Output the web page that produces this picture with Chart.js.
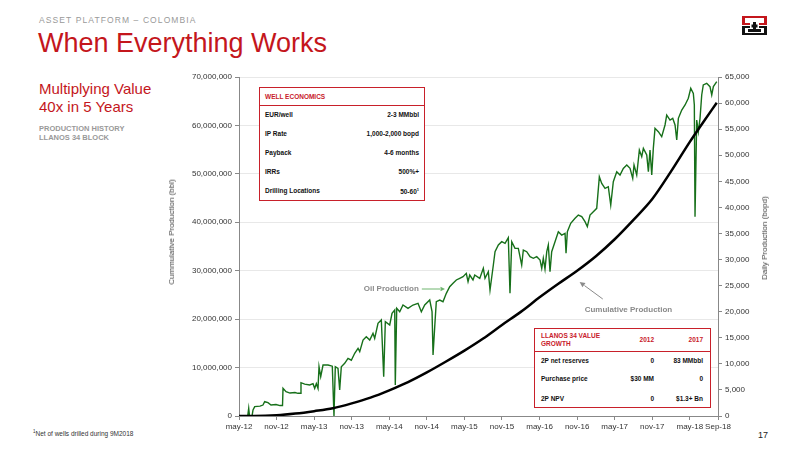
<!DOCTYPE html>
<html>
<head>
<meta charset="utf-8">
<script src="https://cdn.jsdelivr.net/npm/chart.js@4"></script>
<style>
  body { margin: 0; width: 800px; height: 450px; position: relative; background: #fff; overflow: hidden;
         font-family: "Liberation Sans", Arial, Helvetica, sans-serif; }
  .t { position: absolute; white-space: nowrap; line-height: 1; }
  .vt { position: absolute; white-space: nowrap; line-height: 1; font-size: 8px; color: #444;
        transform: translate(-50%, -50%) rotate(-90deg); }
  #wrap { position: absolute; left: 150px; top: 0; width: 650px; height: 450px; }
  .box { position: absolute; border: 1.5px solid #c8202a; background: #fff; box-sizing: border-box; }
  .sep { position: absolute; left: 0; right: 0; height: 0; border-top: 1.2px solid #c8202a; }
  .bt { position: absolute; white-space: nowrap; line-height: 1; font-weight: bold; font-size: 6.5px; color: #111; }
  .red { color: #c8202a; }
  .r { text-align: right; }
</style>
</head>
<body>
<div class="t" style="left:39px;top:16px;font-size:8.5px;letter-spacing:1.1px;color:#999">ASSET PLATFORM – COLOMBIA</div>
<div class="t" style="left:38px;top:30px;font-size:27px;color:#c4161c">When Everything Works</div>
<div class="t" style="left:39px;top:80px;font-size:15px;color:#c4161c;line-height:17.5px">Multiplying Value<br>40x in 5 Years</div>
<div class="t" style="left:39px;top:124px;font-size:7.5px;font-weight:bold;color:#999;line-height:9px">PRODUCTION HISTORY<br>LLANOS 34 BLOCK</div>
<div class="t" style="left:33px;top:430px;font-size:6.5px;color:#333"><sup style="font-size:4.5px">1</sup>Net of wells drilled during 9M2018</div>
<div class="t" style="left:758px;top:431px;font-size:9px;color:#222">17</div>

<svg style="position:absolute;left:742px;top:15px" width="26" height="21" viewBox="0 0 26 21">
  <rect x="0" y="1" width="25" height="9" fill="#c4161c"/>
  <rect x="0" y="11" width="25" height="9" fill="#111"/>
  <rect x="3" y="3" width="19" height="5" fill="#fff"/>
  <rect x="8" y="5" width="9" height="11" fill="#fff"/>
  <rect x="3" y="13" width="19" height="5" fill="#fff"/>
  <rect x="6" y="14" width="13" height="3" fill="#111"/>
  <rect x="11" y="7" width="3" height="8" fill="#111"/>
  <rect x="9.5" y="9.5" width="6" height="3" fill="#111"/>
</svg>

<div id="wrap"><canvas id="chart" width="650" height="450"></canvas></div>

<div class="vt" style="left:172px;top:232px">Cummulative Production (bbl)</div>
<div class="vt" style="left:765px;top:238px">Daily Production (bopd)</div>

<div class="box" style="left:259px;top:87px;width:166px;height:114px">
  <div class="bt red" style="left:5px;top:6px">WELL ECONOMICS</div>
  <div class="sep" style="top:17px"></div>
  <div class="bt" style="left:5px;top:24px">EUR/well</div>
  <div class="bt r" style="right:5px;top:24px">2-3 MMbbl</div>
  <div class="bt" style="left:5px;top:43px">IP Rate</div>
  <div class="bt r" style="right:5px;top:43px">1,000-2,000 bopd</div>
  <div class="bt" style="left:5px;top:62px">Payback</div>
  <div class="bt r" style="right:5px;top:62px">4-6 months</div>
  <div class="bt" style="left:5px;top:81px">IRRs</div>
  <div class="bt r" style="right:5px;top:81px">500%+</div>
  <div class="bt" style="left:5px;top:100px">Drilling Locations</div>
  <div class="bt r" style="right:5px;top:100px">50-60<sup style="font-size:4px">1</sup></div>
</div>

<div class="box" style="left:534px;top:328px;width:177px;height:80px">
  <div class="bt red" style="left:6px;top:3px;line-height:8px">LLANOS 34 VALUE<br>GROWTH</div>
  <div class="bt red r" style="right:56px;top:8px">2012</div>
  <div class="bt red r" style="right:7px;top:8px">2017</div>
  <div class="sep" style="top:22px"></div>
  <div class="bt" style="left:6px;top:29px">2P net reserves</div>
  <div class="bt r" style="right:56px;top:29px">0</div>
  <div class="bt r" style="right:7px;top:29px">83 MMbbl</div>
  <div class="bt" style="left:6px;top:47px">Purchase price</div>
  <div class="bt r" style="right:56px;top:47px">$30 MM</div>
  <div class="bt r" style="right:7px;top:47px">0</div>
  <div class="bt" style="left:6px;top:67px">2P NPV</div>
  <div class="bt r" style="right:56px;top:67px">0</div>
  <div class="bt r" style="right:7px;top:67px">$1.3+ Bn</div>
</div>

<script>
// x axis: months since may-12 (axis ends mid Sep-18)
const tickMonths = [0, 6, 12, 18, 24, 30, 36, 42, 48, 54, 60, 66, 72, 76.5];
const tickLabels = ["may-12", "nov-12", "may-13", "nov-13", "may-14", "nov-14", "may-15",
                    "nov-15", "may-16", "nov-16", "may-17", "nov-17", "may-18", "Sep-18"];

// daily oil production (bopd)
const oilMonths = [
  0, 1.39, 1.55, 1.68, 2.08, 2.24, 2.51, 3.35, 3.83, 4.10,
  4.63, 5.11, 5.91, 6.55, 6.95, 7.03, 7.51, 8.15, 8.94, 9.42,
  9.82, 9.90, 10.49, 11.29, 11.82, 12.09, 12.35, 12.62, 12.78, 13.05,
  13.42, 14.22, 14.90, 15.17, 15.38, 15.81, 16.08, 16.34, 16.88, 17.41,
  17.94, 18.48, 19.01, 19.28, 19.81, 20.33, 20.88, 21.40, 21.67, 22.20,
  22.73, 23.11, 23.37, 24.07, 24.44, 24.87, 24.96, 25.19, 25.67, 26.19,
  26.99, 27.79, 28.59, 29.12, 29.66, 30.46, 30.83, 30.99, 31.26, 31.51,
  32.06, 32.58, 33.11, 33.65, 34.18, 34.71, 35.25, 35.78, 36.30, 36.58,
  36.85, 37.37, 37.65, 38.45, 39.02, 39.29, 39.82, 40.09, 40.62, 40.89,
  41.42, 41.96, 42.49, 43.01, 43.28, 43.56, 44.08, 44.61, 45.15, 45.41,
  45.95, 46.48, 47.01, 47.55, 48.08, 48.35, 48.60, 48.87, 49.15, 49.40,
  49.67, 49.94, 50.47, 51.00, 51.54, 52.07, 52.23, 52.44, 52.98, 53.67,
  54.19, 54.74, 55.26, 55.63, 56.06, 56.59, 57.13, 57.55, 57.93, 58.46,
  58.98, 59.37, 59.78, 60.33, 60.85, 61.38, 61.93, 62.45, 62.88, 63.09,
  63.52, 63.94, 64.32, 64.58, 65.12, 65.38, 65.64, 65.92, 66.17, 66.44,
  66.97, 67.51, 68.04, 68.31, 68.84, 69.27, 69.64, 69.91, 70.17, 70.71,
  71.24, 71.76, 72.15, 72.56, 72.72, 72.83, 73.10, 73.36, 73.63, 73.90,
  74.15, 74.70, 75.22, 75.50, 75.76, 76.30
];
const oilBopd = [
  0, 0, 1480, 0, 0, 1150, 1790, 1900, 2100, 2740,
  2550, 2100, 2200, 2000, 2000, 5300, 4660, 4400, 4500, 4350,
  4350, 6390, 6100, 5940, 6200, 5300, 6200, 5300, 9450, 7540,
  9780, 9780, 9550, 0, 9450, 9140, 4990, 9450, 10100, 11060,
  10700, 12020, 12980, 12340, 14570, 15210, 14570, 15850, 14890, 17780,
  18410, 7540, 18100, 17450, 19690, 20320, 5940, 20650, 20000, 21280,
  20640, 21280, 21600, 20000, 21280, 22240, 20000, 11700, 17130, 21920,
  22240, 21920, 23520, 24800, 25440, 26080, 26390, 26710, 27350, 25760,
  27030, 26080, 27030, 26390, 28310, 26400, 27670, 24160, 28950, 31500,
  32790, 33420, 33100, 34190, 23520, 33420, 32150, 32150, 28950, 31820,
  31500, 30550, 30230, 30550, 29910, 28310, 30230, 28190, 31500, 32790,
  27670, 31500, 33420, 35340, 34700, 35020, 31190, 35340, 36950, 37910,
  38540, 38220, 37270, 36310, 38540, 39180, 39820, 45880, 44600, 43640,
  43960, 40460, 44920, 46840, 46200, 47480, 48120, 47480, 45570, 48120,
  46200, 51000, 49720, 51320, 50040, 46840, 51000, 46210, 51320, 55160,
  54510, 53550, 55800, 57710, 56750, 57070, 55800, 52920, 57070, 58670,
  59630, 60920, 62840, 61870, 59630, 38210, 56750, 54510, 57070, 61550,
  63470, 63790, 63150, 61550, 63150, 64100
];

// cumulative production (bbl)
const cumMonths = [0, 2.5, 6, 9, 12, 15, 18, 21, 24, 27, 30, 33, 36, 39, 42, 45, 48, 51, 54, 57, 60, 63, 66, 69, 72, 74, 76.3];
const cumBbl = [0, 0, 150000, 500000, 1000000, 1600000, 2600000, 3800000, 5300000, 7000000, 9000000,
                11200000, 13500000, 16000000, 18800000, 21500000, 24500000, 27300000, 30000000, 33000000,
                36500000, 40500000, 44800000, 50500000, 56600000, 60400000, 64700000];

const FONT = "'Liberation Sans', Arial, Helvetica, sans-serif";
Chart.defaults.font.family = FONT;

// --- arrows + labels placed in data coordinates ---
function arrow(ctx, x1, y1, x2, y2, color, head) {
  const a = Math.atan2(y2 - y1, x2 - x1);
  ctx.strokeStyle = color; ctx.fillStyle = color; ctx.lineWidth = 1;
  ctx.beginPath(); ctx.moveTo(x1, y1); ctx.lineTo(x2 - Math.cos(a) * head, y2 - Math.sin(a) * head); ctx.stroke();
  ctx.beginPath();
  ctx.moveTo(x2, y2);
  ctx.lineTo(x2 - head * Math.cos(a - 0.45), y2 - head * Math.sin(a - 0.45));
  ctx.lineTo(x2 - head * Math.cos(a + 0.45), y2 - head * Math.sin(a + 0.45));
  ctx.closePath(); ctx.fill();
}

const notes = {
  id: "notes",
  afterDatasetsDraw(chart) {
    const { ctx, scales: { x, y1 } } = chart;
    ctx.save();
    ctx.font = "bold 8px " + FONT;
    ctx.fillStyle = "#8a8a8a";
    ctx.textBaseline = "middle";
    // Oil Production
    const ox = x.getPixelForValue(29.2), oy = y1.getPixelForValue(24350);
    ctx.textAlign = "right";
    ctx.fillText("Oil Production", ox - 3, oy);
    arrow(ctx, ox, oy, x.getPixelForValue(32.9), oy, "#6fb56f", 5);
    // Cumulative Production
    ctx.fillStyle = "#8a8a8a";
    ctx.textAlign = "center";
    ctx.fillText("Cumulative Production", x.getPixelForValue(62.2), y1.getPixelForValue(20300));
    arrow(ctx, x.getPixelForValue(58.1), y1.getPixelForValue(22430),
          x.getPixelForValue(54.4), y1.getPixelForValue(25690), "#8a8a8a", 6);
    ctx.restore();
  }
};

const ctx = document.getElementById("chart").getContext("2d");
new Chart(ctx, {
  type: "line",
  data: {
    datasets: [
      {
        label: "Cumulative Production",
        data: cumMonths.map((m, i) => ({ x: m, y: cumBbl[i] })),
        yAxisID: "y",
        borderColor: "#000",
        borderWidth: 2.5,
        pointRadius: 0,
        cubicInterpolationMode: "monotone",
        order: 0
      },
      {
        label: "Oil Production",
        data: oilMonths.map((m, i) => ({ x: m, y: oilBopd[i] })),
        yAxisID: "y1",
        borderColor: "#17701a",
        borderWidth: 1.4,
        pointRadius: 0,
        tension: 0,
        order: 1
      }
    ]
  },
  options: {
    responsive: false,
    animation: false,
    events: [],
    layout: { padding: { left: 13, right: 26, top: 77, bottom: 0 } },
    plugins: { legend: { display: false }, tooltip: { enabled: false } },
    scales: {
      x: {
        type: "linear",
        min: 0, max: 76.5,
        afterBuildTicks: axis => { axis.ticks = tickMonths.map(v => ({ value: v })); },
        afterFit: axis => { axis.height = 34; },
        ticks: {
          autoSkip: false, maxRotation: 0, padding: 2,
          color: "#333", font: { size: 8 },
          callback: (v, i) => tickLabels[i]
        },
        grid: { drawOnChartArea: false, drawTicks: true, tickLength: 4, tickColor: "#888" },
        border: { color: "#888", width: 1 }
      },
      y: {
        position: "left",
        min: 0, max: 70000000,
        afterFit: axis => { axis.width = 76; },
        ticks: {
          stepSize: 10000000, padding: 3, color: "#333", font: { size: 8 },
          callback: v => v.toLocaleString("en-US")
        },
        grid: { color: "#e8e8e8", tickColor: "#888", tickLength: 4 },
        border: { color: "#888", width: 1 }
      },
      y1: {
        position: "right",
        min: 0, max: 65000,
        afterFit: axis => { axis.width = 56; },
        ticks: {
          stepSize: 5000, padding: 3, color: "#333", font: { size: 8 },
          callback: v => v.toLocaleString("en-US")
        },
        grid: { drawOnChartArea: false, tickColor: "#888", tickLength: 4 },
        border: { color: "#888", width: 1 }
      }
    }
  },
  plugins: [notes]
});
</script>
</body>
</html>
